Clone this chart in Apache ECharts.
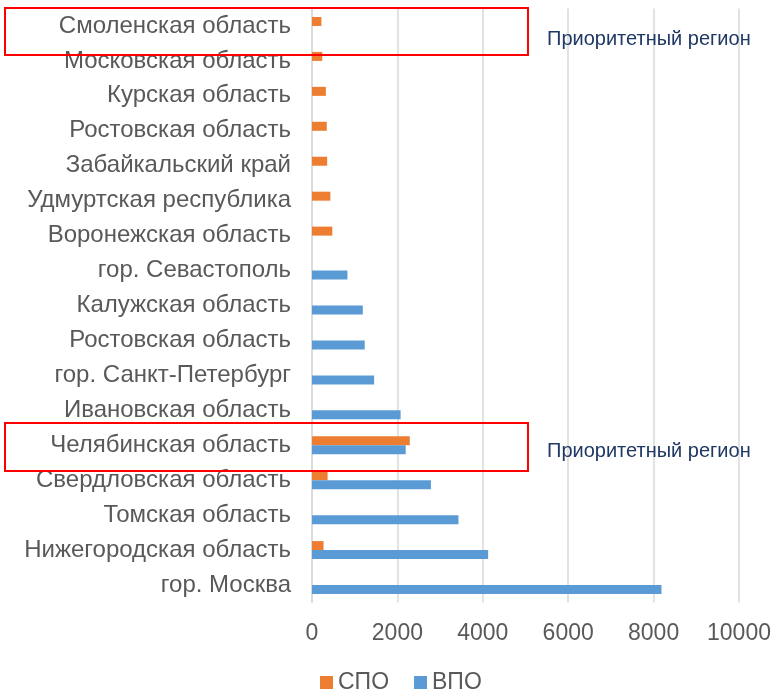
<!DOCTYPE html>
<html>
<head>
<meta charset="utf-8">
<script src="https://cdn.jsdelivr.net/npm/echarts@6/dist/echarts.min.js"></script>
<style>
html,body{margin:0;padding:0;background:#fff;}
#c{width:774px;height:692px;}
</style>
</head>
<body>
<div id="c"></div>
<script>
// Categories listed top-to-bottom
const categories = [
  'Смоленская область',
  'Московская область',
  'Курская область',
  'Ростовская область',
  'Забайкальский край',
  'Удмуртская республика',
  'Воронежская область',
  'гор. Севастополь',
  'Калужская область',
  'Ростовская область',
  'гор. Санкт-Петербург',
  'Ивановская область',
  'Челябинская область',
  'Свердловская область',
  'Томская область',
  'Нижегородская область',
  'гор. Москва'
];
const spoValues = [220, 240, 325, 345, 355, 430, 475, null, null, null, null, null, 2290, 365, null, 270, null];
const vpoValues = [null, null, null, null, null, null, null, 830, 1190, 1235, 1455, 2075, 2195, 2785, 3430, 4125, 8185];
const seriesNames = ['СПО', 'ВПО'];
const xTicks = { min: 0, max: 10000, interval: 2000 };
const noteText = 'Приоритетный регион';

const chart = echarts.init(document.getElementById('c'), null, { renderer: 'canvas' });
const font = 'Liberation Sans, Arial, sans-serif';
chart.setOption({
  animation: false,
  backgroundColor: '#ffffff',
  textStyle: { fontFamily: font },
  grid: { left: 312, right: 35, top: 8.5, bottom: 89.5, containLabel: false },
  legend: {
    data: seriesNames,
    left: 315,
    top: 666,
    itemWidth: 13,
    itemHeight: 13,
    itemGap: 25,
    icon: 'rect',
    textStyle: { fontSize: 23, color: '#595959', fontFamily: font }
  },
  xAxis: {
    type: 'value',
    min: xTicks.min,
    max: xTicks.max,
    interval: xTicks.interval,
    axisLine: { show: false },
    axisTick: { show: false },
    splitLine: { show: true, lineStyle: { color: '#D9D9D9', width: 1.5 } },
    axisLabel: { fontSize: 23, color: '#595959', margin: 20, fontFamily: font, formatter: function (v) { return String(v); } }
  },
  yAxis: {
    type: 'category',
    inverse: true,
    data: categories,
    axisLine: { show: true, lineStyle: { color: '#D9D9D9', width: 1.5 } },
    axisTick: { show: false },
    axisLabel: { fontSize: 24, color: '#595959', margin: 21, fontFamily: font, interval: 0, padding: [5, 0, 0, 0] }
  },
  series: [
    {
      name: seriesNames[0], type: 'bar', data: spoValues,
      barWidth: 9, barGap: '0%',
      itemStyle: { color: '#ED7D31' }
    },
    {
      name: seriesNames[1], type: 'bar', data: vpoValues,
      barWidth: 9, barGap: '0%',
      itemStyle: { color: '#5B9BD5' }
    }
  ],
  graphic: [
    { type: 'rect', shape: { x: 5, y: 8, width: 523, height: 47 }, style: { fill: 'none', stroke: '#FF0000', lineWidth: 2 }, z: 100 },
    { type: 'rect', shape: { x: 5, y: 423, width: 523, height: 48 }, style: { fill: 'none', stroke: '#FF0000', lineWidth: 2 }, z: 100 },
    { type: 'text', left: 547, top: 29, style: { text: noteText, fill: '#1F3864', fontSize: 20, fontFamily: font }, z: 100 },
    { type: 'text', left: 547, top: 441, style: { text: noteText, fill: '#1F3864', fontSize: 20, fontFamily: font }, z: 100 }
  ]
});
</script>
</body>
</html>
